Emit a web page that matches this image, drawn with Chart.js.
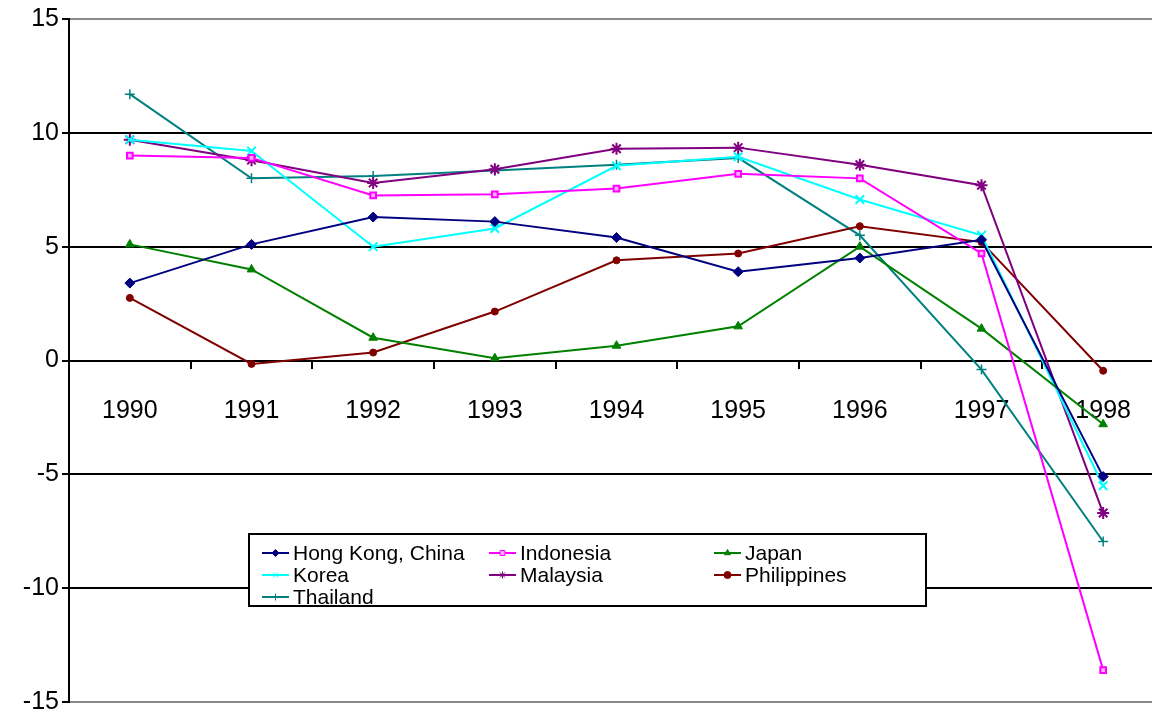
<!DOCTYPE html>
<html lang="en">
<head>
  <meta charset="UTF-8" />
  <title>Real GDP growth, 1990-1998</title>
  <script src="https://cdn.jsdelivr.net/npm/chart.js"></script>
  <style>
    html, body {
      margin: 0;
      padding: 0;
      background: #fff;
      overflow: hidden;
    }
    #wrap {
      position: absolute;
      left: 0;
      top: 0;
    }
  </style>
</head>
<body>
  <div id="wrap">
    <canvas id="growthChart" width="1172" height="716"></canvas>
  </div>

  <script>
    const years = ["1990", "1991", "1992", "1993", "1994", "1995", "1996", "1997", "1998"];

    const hongKong    = [3.4, 5.1, 6.3, 6.1, 5.4, 3.9, 4.5, 5.3, -5.1];
    const indonesia   = [9.0, 8.9, 7.25, 7.3, 7.55, 8.2, 8.0, 4.7, -13.6];
    const japan       = [5.1, 4.0, 1.0, 0.1, 0.65, 1.5, 5.0, 1.4, -2.8];
    const korea       = [9.7, 9.2, 5.0, 5.8, 8.55, 8.95, 7.07, 5.5, -5.5];
    const malaysia    = [9.7, 8.8, 7.8, 8.4, 9.3, 9.35, 8.6, 7.7, -6.7];
    const philippines = [2.75, -0.15, 0.35, 2.15, 4.4, 4.7, 5.9, 5.2, -0.45];
    const thailand    = [11.7, 8.0, 8.1, 8.35, 8.6, 8.9, 5.5, -0.4, -7.95];

    const yTicks = [-15, -10, -5, 0, 5, 10, 15];

    const FONT = "'Liberation Sans', Arial, sans-serif";

    function series(label, data, color, style, radius, fill, bw) {
      return {
        label,
        data,
        borderColor: color,
        backgroundColor: fill || color,
        borderWidth: 2,
        pointStyle: style,
        pointRadius: radius,
        pointBorderColor: color,
        pointBackgroundColor: fill || color,
        pointBorderWidth: bw || 1,
        tension: 0
      };
    }

    // legend drawn in a boxed 3-column grid inside the plot
    const boxLegend = {
      id: 'boxLegend',
      afterDatasetsDraw(chart) {
        const ctx = chart.ctx;
        const box = { x: 249, y: 534, w: 677, h: 72 };
        const cols = [262, 489, 714];
        const rowY = [553, 575, 597];
        ctx.save();
        ctx.fillStyle = '#fff';
        ctx.fillRect(box.x, box.y, box.w, box.h);
        ctx.strokeStyle = '#000';
        ctx.lineWidth = 2;
        ctx.strokeRect(box.x, box.y, box.w, box.h);
        ctx.font = '21px ' + FONT;
        ctx.textBaseline = 'middle';
        chart.data.datasets.forEach((ds, i) => {
          const x = cols[i % 3];
          const y = rowY[Math.floor(i / 3)];
          ctx.strokeStyle = ds.borderColor;
          ctx.lineWidth = 2;
          ctx.beginPath();
          ctx.moveTo(x, y);
          ctx.lineTo(x + 27, y);
          ctx.stroke();
          ctx.fillStyle = ds.pointBackgroundColor;
          ctx.strokeStyle = ds.pointBorderColor;
          ctx.lineWidth = 1;
          Chart.helpers.drawPoint(ctx, {
            pointStyle: ds.pointStyle,
            radius: Math.min(ds.pointRadius, 3.5),
            borderWidth: 1,
            rotation: 0
          }, x + 13.5, y);
          ctx.fillStyle = '#000';
          ctx.fillText(ds.label, x + 31, y + 1);
        });
        ctx.restore();
      }
    };

    new Chart(document.getElementById('growthChart'), {
      type: 'line',
      data: {
        labels: years,
        datasets: [
          series('Hong Kong, China', hongKong, '#000080', 'rectRot', 5),
          series('Indonesia', indonesia, '#FF00FF', 'rect', 4, '#FFB0FF', 2),
          series('Japan', japan, '#008000', 'triangle', 5),
          series('Korea', korea, '#00FFFF', 'crossRot', 6, null, 2),
          series('Malaysia', malaysia, '#800080', 'star', 6, null, 2),
          series('Philippines', philippines, '#800000', 'circle', 3.5),
          series('Thailand', thailand, '#008080', 'cross', 5, null, 1.5)
        ]
      },
      options: {
        responsive: false,
        animation: false,
        layout: { padding: { top: 19, bottom: 14, left: 0, right: 0 } },
        plugins: {
          legend: { display: false },
          tooltip: { enabled: false }
        },
        scales: {
          x: {
            position: { y: 0 },
            offset: true,
            grid: {
              offset: true,
              drawOnChartArea: false,
              drawTicks: true,
              tickLength: 7,
              color: '#000',
              lineWidth: 2
            },
            border: { display: true, color: '#000', width: 2 },
            ticks: {
              color: '#000',
              padding: 29,
              maxRotation: 0,
              autoSkip: false,
              font: { family: FONT, size: 25 }
            }
          },
          y: {
            min: -15,
            max: 15,
            afterBuildTicks: scale => {
              scale.ticks = yTicks.map(v => ({ value: v }));
            },
            afterFit: scale => {
              scale.width = 69;
              // let the end labels overhang instead of shrinking the plot
              scale.paddingTop = 0;
              scale.paddingBottom = 0;
            },
            grid: {
              color: c => (c.tick && Math.abs(c.tick.value) === 15) ? '#8a8a8a' : '#000',
              tickColor: '#000',
              lineWidth: 2,
              tickLength: 7
            },
            border: { display: true, color: '#000', width: 2 },
            ticks: {
              color: '#000',
              padding: 3,
              font: { family: FONT, size: 25 }
            }
          }
        }
      },
      plugins: [boxLegend]
    });
  </script>
</body>
</html>
